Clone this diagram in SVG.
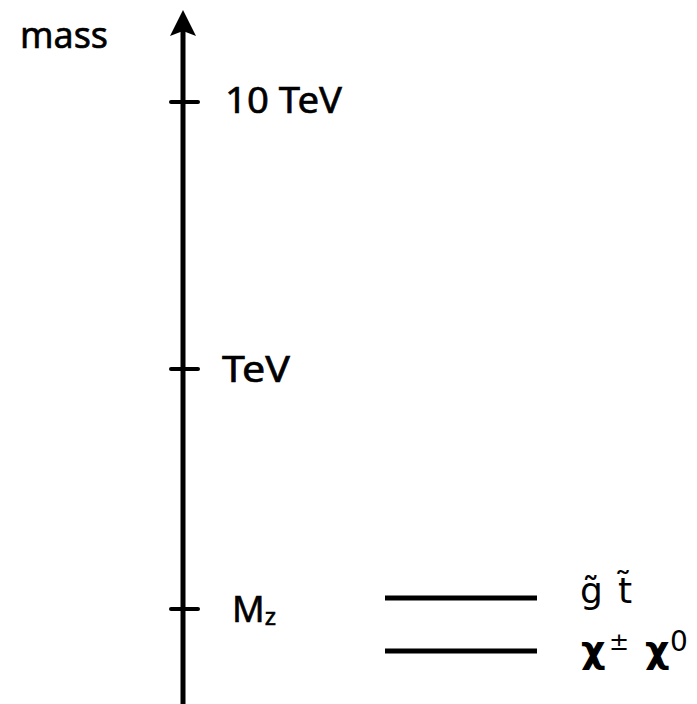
<svg xmlns="http://www.w3.org/2000/svg" width="697" height="704" viewBox="0 0 697 704">
<style>
.lbl{font-family:"Noto Sans","DejaVu Sans",sans-serif;font-size:36px;fill:#000;stroke:#000;stroke-width:0.6}
.sym{font-family:"DejaVu Sans","Noto Sans",sans-serif;fill:#000}
.ax{stroke:#000;stroke-width:5;fill:none}
.tick{stroke:#000;stroke-width:4;stroke-linecap:round}
.lvl{stroke:#000;stroke-width:5}
</style>
<g id="connectors">
<line class="ax" x1="183" y1="704" x2="183" y2="30"/>
<path d="M183 10 L196 36 L183 31 L170 36 Z" fill="#000"/>
</g>
<g id="axis-label"><text class="lbl" x="20" y="48" textLength="88" lengthAdjust="spacingAndGlyphs">mass</text></g>
<g id="tick-10TeV">
<line class="tick" x1="171" y1="102" x2="198" y2="102"/>
<text class="lbl" x="225" y="113" textLength="117" lengthAdjust="spacingAndGlyphs">10 TeV</text>
</g>
<g id="tick-TeV">
<line class="tick" x1="171" y1="369" x2="198" y2="369"/>
<text class="lbl" x="222" y="382" textLength="68" lengthAdjust="spacingAndGlyphs">TeV</text>
</g>
<g id="tick-MZ">
<line class="tick" x1="171" y1="609" x2="198" y2="609"/>
<text class="lbl" x="232" y="622">M<tspan font-size="24" dy="3">z</tspan></text>
</g>
<g id="level-gt">
<line class="lvl" x1="385" y1="598" x2="537" y2="598"/>
<text class="sym" x="580" y="603" font-size="36">g̃<tspan x="618">t̃</tspan></text>
</g>
<g id="level-chi">
<line class="lvl" x1="385" y1="651" x2="537" y2="651"/>
<text class="sym" x="581" y="662" font-size="38" font-weight="bold">χ<tspan font-size="24" font-weight="normal" x="609" y="650">±</tspan><tspan x="645" y="662">χ</tspan><tspan font-size="28" font-weight="normal" x="670" y="651">0</tspan></text>
</g>
</svg>
